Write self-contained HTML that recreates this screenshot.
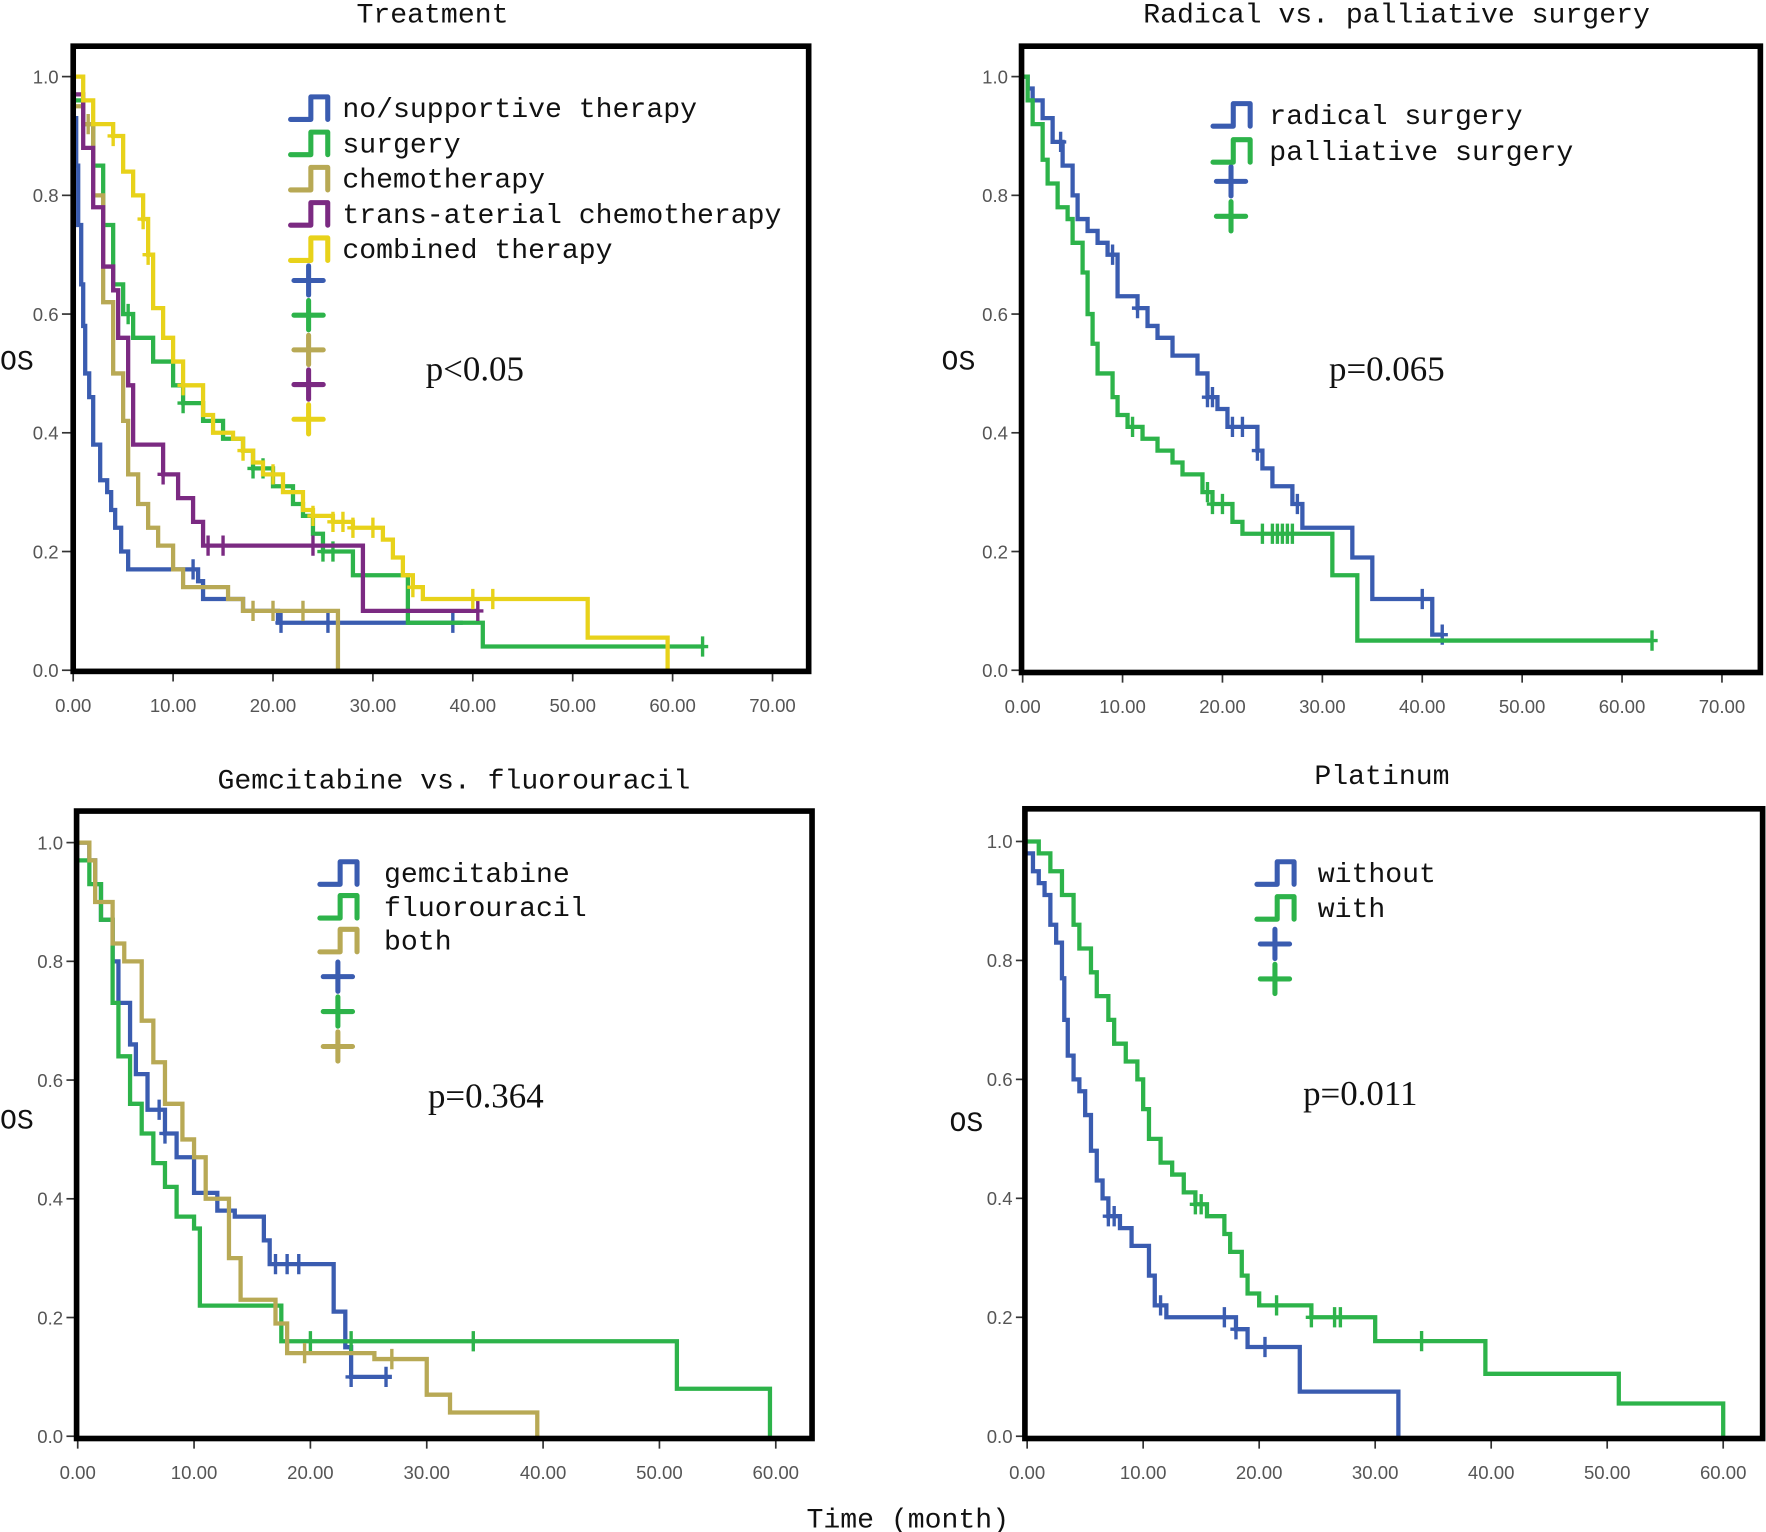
<!DOCTYPE html>
<html><head><meta charset="utf-8"><style>
html,body{margin:0;padding:0;background:#fff;}
svg{display:block;}
.tt{font-family:"Liberation Mono","Liberation Serif",monospace;font-size:25px;fill:#111;}
.tk{font-family:"Liberation Sans",sans-serif;font-size:16.5px;fill:#555;}
.pv{font-family:"Liberation Serif",serif;font-size:31px;fill:#111;}
</style></head><body>
<svg id="chart" width="1766" height="1532" viewBox="0 0 1568 1360" preserveAspectRatio="none" xmlns="http://www.w3.org/2000/svg">
<text class="tt" x="806" y="1356" text-anchor="middle">Time (month)</text>
</svg>
<script>
const C={blue:'#3a5cb0',green:'#2db34a',khaki:'#b8a955',purple:'#7b2a82',yellow:'#e8d21a'};
// Panel 1: Treatment
const p1Names=['no/supportive therapy','surgery','chemotherapy','trans-aterial chemotherapy','combined therapy'];
const p1Blue=[[0,0.93],[0.3,0.85],[0.5,0.75],[0.8,0.65],[1,0.58],[1.2,0.5],[1.6,0.46],[2,0.38],[2.7,0.32],[3.4,0.3],[3.8,0.27],[4.2,0.24],[4.8,0.2],[5.5,0.17],[12.5,0.15],[13,0.12],[17,0.1],[20.5,0.08],[39,0.08]];
const p1BlueC=[12,20.8,25.5,38];
const p1Green=[[0,0.96],[1,0.92],[2,0.85],[3,0.75],[4,0.65],[5,0.6],[6,0.56],[8,0.52],[10,0.48],[11,0.45],[13,0.42],[15,0.39],[17,0.37],[18,0.34],[20,0.31],[22,0.28],[23,0.26],[24,0.23],[25,0.2],[28,0.16],[33.5,0.08],[41,0.04],[63,0.04]];
const p1GreenC=[5.5,11,18,19,25,26,63];
const p1Khaki=[[0,0.95],[1,0.92],[2,0.8],[3,0.62],[4,0.5],[5,0.42],[5.5,0.33],[6.5,0.28],[7.5,0.24],[8.5,0.21],[10,0.17],[11,0.14],[15.5,0.12],[17,0.1],[26.5,0]];
const p1KhakiC=[1.5,18,20,23];
const p1Purple=[[0,0.97],[1,0.88],[2,0.78],[3,0.68],[4,0.64],[4.5,0.56],[5.5,0.48],[6,0.38],[9,0.33],[10.5,0.29],[12,0.25],[13,0.21],[29,0.1],[40.5,0.1]];
const p1PurpleC=[9,13.5,15,24,40.5];
const p1Yellow=[[0,1],[1,0.96],[2,0.92],[4,0.9],[5,0.84],[6,0.8],[7,0.76],[7.5,0.7],[8,0.61],[9,0.56],[10,0.52],[11,0.48],[13,0.43],[14,0.4],[16,0.39],[17,0.37],[18,0.35],[19,0.33],[21,0.3],[23,0.27],[24,0.26],[26,0.25],[28,0.24],[31,0.22],[32,0.19],[33,0.16],[34,0.14],[35,0.12],[51.5,0.055],[59.5,0]];
const p1YellowC=[4,7,7.5,11,17,20,24,26,27,28,30,34,40,42];
// Panel 2
const p2Names=['radical surgery','palliative surgery'];
const p2Blue=[[0,1],[0.5,0.98],[1,0.96],[2,0.93],[3,0.89],[4,0.85],[5,0.8],[5.5,0.76],[6.5,0.74],[7.5,0.72],[8.5,0.7],[9.5,0.63],[11.5,0.61],[12.5,0.58],[13.5,0.56],[15,0.53],[17.5,0.5],[18.5,0.46],[19.5,0.44],[20.5,0.41],[23.5,0.37],[24,0.34],[25,0.31],[27,0.28],[28,0.24],[33,0.19],[35,0.12],[41,0.06],[42,0.06]];
const p2BlueC=[3.8,9,11.5,18.5,19,21,22,23.5,27.5,40,42];
const p2Green=[[0,1],[0.5,0.96],[1,0.92],[2,0.86],[2.5,0.82],[3.5,0.78],[4.5,0.76],[5,0.72],[6,0.67],[6.5,0.6],[7,0.55],[7.5,0.5],[9,0.46],[9.5,0.43],[10.5,0.41],[12,0.39],[13.5,0.37],[15,0.35],[16,0.33],[18,0.3],[19,0.28],[21,0.25],[22,0.23],[31,0.16],[33.5,0.05],[63,0.05]];
const p2GreenC=[11,18.5,19,20,24,25,25.5,26,26.5,27,63];
// Panel 3
const p3Names=['gemcitabine','fluorouracil','both'];
const p3Blue=[[0,1],[1,0.97],[1.5,0.93],[2,0.87],[3,0.8],[3.5,0.73],[4.5,0.66],[5,0.61],[6,0.55],[7.5,0.51],[8.5,0.47],[10,0.41],[12,0.38],[13.5,0.37],[16,0.33],[16.5,0.29],[22,0.21],[23,0.15],[23.5,0.1],[27,0.1]];
const p3BlueC=[7,7.5,17,18,19,23.5,26.5];
const p3Green=[[0,0.97],[1,0.93],[2,0.87],[3,0.73],[3.5,0.64],[4.5,0.56],[5.5,0.51],[6.5,0.46],[7.5,0.42],[8.5,0.37],[10,0.35],[10.5,0.22],[17.5,0.16],[51.5,0.08],[59.5,0]];
const p3GreenC=[20,23.5,34];
const p3Khaki=[[0,1],[1,0.97],[1.5,0.9],[3,0.83],[4,0.8],[5.5,0.7],[6.5,0.63],[7.5,0.56],[9,0.5],[10,0.47],[11,0.4],[13,0.3],[14,0.23],[17,0.19],[18,0.14],[25.5,0.13],[30,0.07],[32,0.04],[39.5,0]];
const p3KhakiC=[19.5,27];
// Panel 4
const p4Names=['without','with'];
const p4Blue=[[0,0.98],[0.5,0.95],[1,0.93],[1.5,0.91],[2,0.86],[2.5,0.83],[3,0.77],[3.2,0.7],[3.5,0.64],[4,0.6],[4.5,0.58],[5,0.54],[5.5,0.48],[6,0.43],[6.5,0.4],[7,0.37],[8,0.35],[9,0.32],[10.5,0.27],[11,0.22],[12,0.2],[18,0.18],[19,0.15],[23.5,0.075],[32,0]];
const p4BlueC=[7,7.5,11.5,17,18,20.5];
const p4Green=[[0,1],[1,0.98],[2,0.95],[3,0.91],[4,0.86],[4.5,0.82],[5.5,0.78],[6,0.74],[7,0.7],[7.5,0.66],[8.5,0.63],[9.5,0.6],[10,0.55],[10.5,0.5],[11.5,0.46],[12.5,0.44],[13.5,0.41],[14.5,0.39],[15.5,0.37],[17,0.34],[17.5,0.31],[18.5,0.27],[19,0.24],[20,0.22],[24.5,0.2],[30,0.16],[39.5,0.105],[51,0.055],[60,0]];
const p4GreenC=[14.5,15,21.5,24.5,26.5,27,34];
const yTicks=[0,0.2,0.4,0.6,0.8,1.0];
const xTicks70=[0,10,20,30,40,50,60,70];
const xTicks60=[0,10,20,30,40,50,60];

const svg=document.getElementById('chart');
const NS='http://www.w3.org/2000/svg';
function mk(tag,attrs,parent){const e=document.createElementNS(NS,tag);for(const k in attrs)e.setAttribute(k,attrs[k]);(parent||svg).appendChild(e);return e;}

function panel(cfg){
  const g=mk('g',{});
  
  
  const X=t=>cfg.x0+t*cfg.xs, Y=v=>cfg.y0-v*(cfg.y0-cfg.y1);
  const tt=mk('text',{x:cfg.tx,y:cfg.ty,'text-anchor':'middle','class':'tt'},g);tt.textContent=cfg.title;
  
  
  const os=mk('text',{x:cfg.osx,y:cfg.osy,'class':'tt'},g);os.textContent='OS';
  
  
  yTicks.forEach(v=>{
    mk('line',{x1:cfg.x0-10,x2:cfg.x0,y1:Y(v),y2:Y(v),stroke:'#333','stroke-width':1.5},g);
    const t=mk('text',{x:cfg.x0-13,y:Y(v)+6,'text-anchor':'end','class':'tk'},g);t.textContent=v.toFixed(1);
    
    
  });
  cfg.xt.forEach(v=>{
    mk('line',{x1:X(v),x2:X(v),y1:cfg.fb,y2:cfg.fb+9,stroke:'#333','stroke-width':1.5},g);
    const t=mk('text',{x:X(v),y:cfg.fb+36,'text-anchor':'middle','class':'tk'},g);t.textContent=v.toFixed(2);
    
    
  });
  cfg.series.forEach((s,i)=>{
    let d='M'+X(s.d[0][0])+' '+Y(s.d[0][1]);
    for(let k=1;k<s.d.length;k++){d+=' H'+X(s.d[k][0])+' V'+Y(s.d[k][1]);}
    const p=mk('path',{d:d,fill:'none',stroke:s.c,'stroke-width':3.8},g);
    
    
    s.cz.forEach(t=>{
      let v=s.d[0][1];for(const q of s.d){if(q[0]<=t)v=q[1];}
      const m=mk('path',{d:`M${X(t)} ${Y(v)-9} V${Y(v)+9} M${X(t)-5} ${Y(v)} H${X(t)+5}`,stroke:s.c,'stroke-width':3},g);
      
      
    });
    const lx=cfg.lx, ly=cfg.ly+i*cfg.lg;
    const sw=mk('path',{d:`M${lx} ${ly+10} H${lx+18} V${ly-10} H${lx+33} V${ly+10}`,fill:'none',stroke:s.c,'stroke-width':4.5,'stroke-linecap':'round','stroke-linejoin':'round'},g);
    
    
    const lt=mk('text',{x:cfg.ltx,y:ly+8,'class':'tt'},g);lt.textContent=s.n;
    
    
    const cy=cfg.cy+i*cfg.cg, cx=lx+16;
    const cr=mk('path',{d:`M${cx} ${cy-13} V${cy+13} M${cx-13} ${cy} H${cx+13}`,stroke:s.c,'stroke-width':4.5,'stroke-linecap':'round'},g);
    
    
  });
  const pv=mk('text',{x:cfg.px,y:cfg.py,'class':'pv'},g);pv.textContent=cfg.p;
  
  
  const fr=mk('rect',{x:cfg.fl,y:cfg.ft,width:cfg.fr-cfg.fl,height:cfg.fb-cfg.ft,fill:'none',stroke:'#000','stroke-width':5},g);
  
  
}
panel({id:'panel-treatment',title:'Treatment',tx:384,ty:20,osx:0,osy:328,x0:65,xs:8.87,y0:595,y1:68,fl:65,fr:718,ft:41,fb:596,xt:xTicks70,
 lx:258,ly:96,lg:31.3,ltx:304,cy:249,cg:30.8,px:378,py:338,p:'p<0.05',
 series:[{n:p1Names[0],c:C.blue,d:p1Blue,cz:p1BlueC},{n:p1Names[1],c:C.green,d:p1Green,cz:p1GreenC},{n:p1Names[2],c:C.khaki,d:p1Khaki,cz:p1KhakiC},{n:p1Names[3],c:C.purple,d:p1Purple,cz:p1PurpleC},{n:p1Names[4],c:C.yellow,d:p1Yellow,cz:p1YellowC}]});
panel({id:'panel-radical-vs-palliative',title:'Radical vs. palliative surgery',tx:1240,ty:20,osx:836,osy:328,x0:908,xs:8.87,y0:595,y1:68,fl:907,fr:1563,ft:41,fb:597,xt:xTicks70,
 lx:1077,ly:102,lg:32,ltx:1127,cy:161,cg:31,px:1180,py:338,p:'p=0.065',
 series:[{n:p2Names[0],c:C.blue,d:p2Blue,cz:p2BlueC},{n:p2Names[1],c:C.green,d:p2Green,cz:p2GreenC}]});
panel({id:'panel-gemcitabine-vs-fluorouracil',title:'Gemcitabine vs. fluorouracil',tx:403,ty:700,osx:0,osy:1002,x0:69,xs:10.33,y0:1275,y1:748,fl:68,fr:721,ft:720,fb:1277,xt:xTicks60,
 lx:284,ly:775,lg:30,ltx:341,cy:867,cg:31,px:380,py:983,p:'p=0.364',
 series:[{n:p3Names[0],c:C.blue,d:p3Blue,cz:p3BlueC},{n:p3Names[1],c:C.green,d:p3Green,cz:p3GreenC},{n:p3Names[2],c:C.khaki,d:p3Khaki,cz:p3KhakiC}]});
panel({id:'panel-platinum',title:'Platinum',tx:1227,ty:696,osx:843,osy:1004,x0:912,xs:10.3,y0:1275,y1:747,fl:910,fr:1565,ft:718,fb:1277,xt:xTicks60,
 lx:1116,ly:775,lg:31,ltx:1170,cy:838,cg:31,px:1157,py:981,p:'p=0.011',
 series:[{n:p4Names[0],c:C.blue,d:p4Blue,cz:p4BlueC},{n:p4Names[1],c:C.green,d:p4Green,cz:p4GreenC}]});
</script>
</body></html>
